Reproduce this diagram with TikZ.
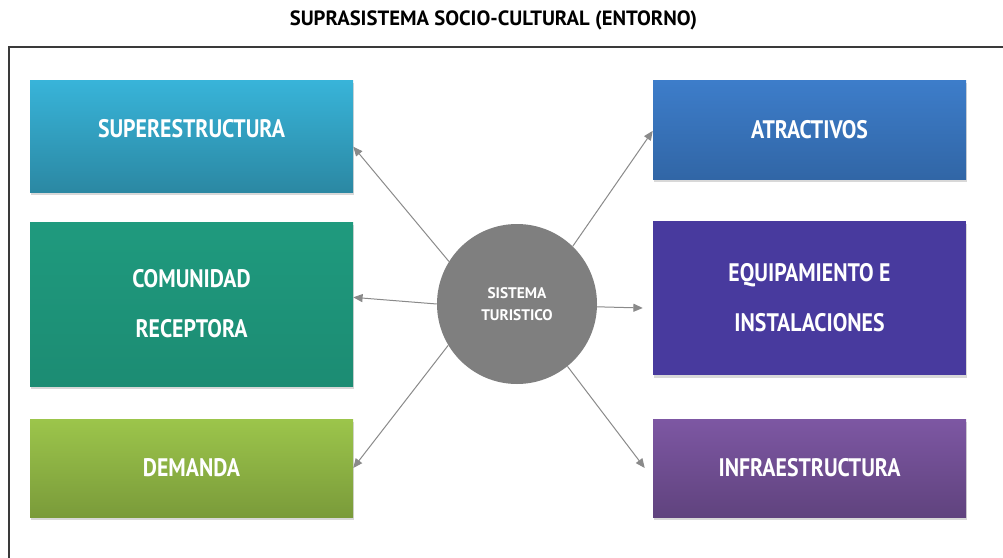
\documentclass[tikz,border=0pt]{standalone}
\usepackage{fontspec}
\newfontfamily\boxfont[FakeStretch=0.86]{PT Sans}
\newfontfamily\titlefont{PT Sans}
\usetikzlibrary{arrows.meta,shadows}
\definecolor{supT}{HTML}{38B4D9}
\definecolor{supB}{HTML}{2B88A3}
\definecolor{comT}{HTML}{1F9A7E}
\definecolor{comB}{HTML}{1C8C73}
\definecolor{demT}{HTML}{9CC54B}
\definecolor{demB}{HTML}{7A9B3A}
\definecolor{atrT}{HTML}{3D7DCA}
\definecolor{atrB}{HTML}{3166A6}
\definecolor{eqC}{HTML}{483A9E}
\definecolor{infT}{HTML}{7D57A3}
\definecolor{infB}{HTML}{60437E}
\definecolor{circC}{HTML}{7F7F7F}
\definecolor{arrC}{HTML}{8A8A8A}
\definecolor{frameC}{HTML}{3A3A3A}
\begin{document}
\begin{tikzpicture}[x=0.75pt,y=-0.75pt,
  box/.style={draw=none, text=white, align=center,
    font=\boxfont\bfseries\fontsize{19}{37.5}\selectfont,
    drop shadow={opacity=0.3, shadow xshift=1pt, shadow yshift=-2pt}},
  link/.style={draw=arrC, line width=0.75pt, -{Triangle[length=7pt,width=6pt]}}]
\useasboundingbox (0,0) rectangle (1003,557);
\fill[white] (0,0) rectangle (1003,557);
\node[font=\titlefont\bfseries\fontsize{15.5}{18}\selectfont, text=black] (title) at (493.5,20) {SUPRASISTEMA SOCIO-CULTURAL (ENTORNO)};
\draw[frameC, line width=1.1pt] (1010,47) -- (9,47) -- (9,570);

\node[box, top color=supT, bottom color=supB, minimum width={323*0.75pt}, minimum height={112*0.75pt}] (sup) at (191.5,136) {\raisebox{12pt}{SUPERESTRUCTURA}};
\node[box, top color=comT, bottom color=comB, minimum width={323*0.75pt}, minimum height={164*0.75pt}] (com) at (191.5,304) {COMUNIDAD\\RECEPTORA};
\node[box, top color=demT, bottom color=demB, minimum width={323*0.75pt}, minimum height={98*0.75pt}] (dem) at (191.5,468) {DEMANDA};
\node[box, top color=atrT, bottom color=atrB, minimum width={313*0.75pt}, minimum height={99*0.75pt}] (atr) at (809.5,129.5) {ATRACTIVOS};
\node[box, fill=eqC, minimum width={313*0.75pt}, minimum height={154*0.75pt}] (eq) at (809.5,298) {EQUIPAMIENTO E\\INSTALACIONES};
\node[box, top color=infT, bottom color=infB, minimum width={313*0.75pt}, minimum height={98*0.75pt}] (inf) at (809.5,468) {INFRAESTRUCTURA};

\node[circle, fill=circC, minimum size={160*0.75pt}, inner sep=0pt, text=white, align=center,
  font=\titlefont\bfseries\fontsize{11.5}{17}\selectfont] (c) at (517,304) {SISTEMA\\TURISTICO};

\draw[link] (c.148.7) -- ([yshift=-8]sup.east);
\draw[link] (c.180) -- ([yshift=5]com.east);
\draw[link] (c.211.6) -- (dem.east);
\draw[link] (c.46.4) -- ([yshift=-1]atr.west);
\draw[link] (c.358.5) -- ([shift={(-10,10)}]eq.west);
\draw[link] (c.309.6) -- ([xshift=-6]inf.west);
\end{tikzpicture}
\end{document}
